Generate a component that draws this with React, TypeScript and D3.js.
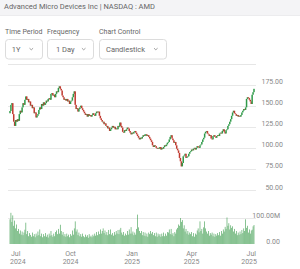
import React from "react";
import * as d3 from "d3";

const title = "Advanced Micro Devices Inc | NASDAQ : AMD";
const controlLabels = ["Time Period", "Frequency", "Chart Control"];
const controlValues = ["1Y", "1 Day", "Candlestick"];

const startDate = new Date(2024, 6, 2);
const firstOpen = 141;
// daily closes (USD), one per trading day
const closes = [
  143.7, 151, 153, 140, 131, 126, 133, 131, 134, 132,
  140, 144, 142, 148, 153, 151, 157, 161, 157, 158,
  154, 155, 150, 151, 147, 148, 141, 142, 136, 138,
  140, 145, 148, 146, 152, 150, 154, 151, 153, 156,
  155, 158, 159, 157, 164, 165, 162, 163, 160, 164,
  167, 166, 171, 173, 170, 168, 162, 160, 157, 158,
  156, 158, 155, 156, 152, 155, 156, 160, 164, 167,
  151, 146, 147, 143, 146, 148, 150, 147, 145, 143,
  141, 139, 140, 137, 140, 138, 139, 137, 139, 141,
  139, 138, 141, 143, 142, 143, 138, 135, 133, 131,
  131, 128, 129, 126, 126, 123, 124, 120, 122, 124,
  126, 124, 125, 122, 123, 122, 126, 125, 130, 126,
  124, 119, 118, 121, 120, 122, 124, 123, 120, 118,
  116, 118, 117, 119, 120, 118, 116, 114, 112, 110,
  112, 111, 113, 115, 114, 116, 116, 114, 115, 113,
  111, 109, 107, 103, 101, 103, 102, 100, 99, 100,
  99, 101, 98, 100, 99, 101, 103, 102, 104, 106,
  107, 110, 113, 115, 111, 109, 106, 107, 103, 99,
  97, 94, 88, 84, 78, 82, 90, 91, 93, 88,
  89, 90, 93, 95, 96, 98, 97, 99, 100, 98,
  100, 102, 101, 100, 103, 104, 107, 110, 112, 117,
  119, 120, 117, 116, 114, 115, 111, 110, 114, 115,
  113, 112, 114, 115, 114, 117, 118, 117, 120, 122,
  119, 117, 121, 122, 126, 128, 131, 134, 138, 142,
  144, 141, 140, 138, 139, 137, 138, 137, 139, 142,
  144, 146, 145, 148, 158, 160, 159, 157, 155, 152,
  163, 166, 170,
];
// daily volume, millions of shares
const volumesM = [
  95, 120, 85, 110, 70, 90, 60, 75, 50, 58,
  40, 52, 36, 48, 34, 44, 55, 82, 38, 50,
  30, 42, 35, 28, 44, 30, 38, 26, 40, 32,
  48, 34, 56, 30, 40, 26, 38, 30, 42, 28,
  36, 25, 40, 32, 50, 34, 28, 40, 30, 46,
  52, 38, 58, 40, 74, 50, 36, 46, 30, 38,
  28, 40, 30, 36, 26, 38, 32, 52, 36, 60,
  87, 48, 56, 34, 44, 30, 38, 28, 40, 30,
  26, 36, 28, 34, 24, 38, 28, 32, 26, 36,
  30, 40, 32, 46, 34, 48, 38, 56, 40, 50,
  60, 42, 52, 36, 46, 34, 54, 38, 56, 36,
  42, 32, 46, 36, 50, 40, 54, 38, 55, 62,
  44, 36, 46, 32, 40, 34, 50, 36, 56, 40,
  65, 40, 48, 34, 44, 36, 58, 113, 64, 50,
  42, 50, 34, 46, 32, 44, 30, 40, 28, 44,
  38, 50, 40, 46, 34, 42, 30, 44, 28, 40,
  32, 38, 28, 40, 30, 44, 30, 40, 32, 46,
  44, 56, 38, 58, 36, 42, 30, 46, 40, 56,
  62, 75, 70, 100, 85, 92, 60, 72, 48, 58,
  40, 50, 36, 44, 38, 46, 30, 42, 28, 40,
  36, 52, 60, 45, 87, 50, 58, 40, 64, 87,
  60, 48, 40, 50, 32, 42, 36, 44, 30, 40,
  28, 38, 32, 42, 34, 46, 32, 50, 40, 56,
  48, 66, 58, 102, 70, 80, 56, 72, 62, 68,
  48, 58, 40, 50, 34, 44, 36, 48, 38, 54,
  42, 60, 50, 95, 62, 70, 44, 56, 40, 52,
  55, 68, 73,
];
const priceTicks = [50, 75, 100, 125, 150, 175];
const volumeTicks = [0, 100];
const monthTicks = [new Date(2024, 9, 1), new Date(2025, 0, 1), new Date(2025, 3, 1)];
const edgeMonthLabels = [["Jul", "2024"], ["Jul", "2025"]];

const W = 300;
const H = 269;
const FONT = "Roboto, 'Open Sans', sans-serif";
const UP = "#2f9a49";
const DOWN = "#c0392f";

export default function App() {
  const n = closes.length;
  const dates: Date[] = [];
  let d = new Date(startDate);
  while (dates.length < n) {
    const w = d.getDay();
    if (w !== 0 && w !== 6) dates.push(new Date(d));
    d = d3.timeDay.offset(d, 1);
  }
  const x = d3.scaleLinear().domain([0, n - 1]).range([10, 254]);
  const y = d3.scaleLinear().domain([50, 175]).range([190, 84.6]);
  const yv = d3.scaleLinear().domain([0, 100]).range([244, 218]);
  const gx1 = 8;
  const gx2 = 256;
  const step = x(1) - x(0);

  const candles = closes.map((c, i) => {
    const o = i === 0 ? firstOpen : closes[i - 1];
    return { i, o, c };
  });

  const boxes = [
    { x: 5, w: 37, tx: 11.7, cx: 31.3 },
    { x: 47, w: 46, tx: 56, cx: 83.7 },
    { x: 99, w: 67, tx: 106, cx: 155.8 },
  ];
  const labelX = [5, 47, 99];
  const fmtM = d3.timeFormat("%b");
  const fmtY = d3.timeFormat("%Y");
  const bis = d3.bisector((t: Date) => t).left;

  return (
    <svg width={W} height={H} style={{ position: "absolute", left: 0, top: 0 }} fontFamily={FONT}>
      <rect x={0} y={0} width={W} height={H} fill="#fff" />
      <rect x={0} y={0} width={W} height={15} fill="#f4f4f6" />
      <line x1={0} x2={W} y1={15.5} y2={15.5} stroke="#ececee" />
      <text x={4} y={8.5} fontSize={7.5} fill="#666">{title}</text>

      {controlLabels.map((t, k) => (
        <text key={t} x={labelX[k]} y={34} fontSize={7} fill="#666">{t}</text>
      ))}
      {controlValues.map((t, k) => {
        const b = boxes[k];
        return (
          <g key={t}>
            <rect x={b.x + 0.5} y={39.5} width={b.w} height={19.5} rx={3} fill="#fff" stroke="#dcdcdc" />
            <text x={b.tx} y={51.5} fontSize={7.5} fill="#666">{t}</text>
            <polyline
              points={`${b.cx - 1.8},${48.2} ${b.cx},${49.8} ${b.cx + 1.8},${48.2}`}
              fill="none"
              stroke="#888"
              strokeWidth={0.8}
            />
          </g>
        );
      })}
      <line x1={8} x2={256} y1={64.5} y2={64.5} stroke="#e6e6e6" />

      {priceTicks.map((t) => (
        <g key={t}>
          <line x1={gx1} x2={gx2} y1={Math.round(y(t)) + 0.5} y2={Math.round(y(t)) + 0.5} stroke="#e8e8e8" />
          <text x={283} y={y(t) - 0.5} fontSize={7} fill="#888" textAnchor="end">{t.toFixed(2)}</text>
        </g>
      ))}
      {volumeTicks.map((t) => (
        <g key={t}>
          {t > 0 && (
            <line x1={gx1} x2={gx2} y1={Math.round(yv(t)) + 0.5} y2={Math.round(yv(t)) + 0.5} stroke="#e8e8e8" />
          )}
          <text x={280} y={yv(t) - 0.5} fontSize={7} fill="#888" textAnchor="end">
            {t === 0 ? "0.00" : `${t.toFixed(2)}M`}
          </text>
        </g>
      ))}

      {volumesM.map((v, i) => (
        <rect
          key={i}
          x={x(i) - step * 0.35}
          y={yv(v)}
          width={step * 0.7}
          height={yv(0) - yv(v)}
          fill="#4aa35a"
        />
      ))}

      {candles.map(({ i, o, c }) => {
        const top = y(Math.max(o, c));
        const h = Math.max(0.8, Math.abs(y(o) - y(c)));
        return (
          <rect
            key={i}
            x={x(i) - 0.75}
            y={top}
            width={1.5}
            height={h}
            fill={c >= o ? UP : DOWN}
          />
        );
      })}

      {monthTicks.map((t) => {
        const xi = x(bis(dates, t));
        return (
          <g key={t.toISOString()}>
            <text x={xi} y={255.5} fontSize={7} fill="#888" textAnchor="middle">{fmtM(t)}</text>
            <text x={xi} y={263.5} fontSize={7} fill="#888" textAnchor="middle">{fmtY(t)}</text>
          </g>
        );
      })}
      <text x={11} y={255.5} fontSize={7} fill="#888" textAnchor="start">{edgeMonthLabels[0][0]}</text>
      <text x={10} y={263.5} fontSize={7} fill="#888" textAnchor="start">{edgeMonthLabels[0][1]}</text>
      <text x={256} y={255.5} fontSize={7} fill="#888" textAnchor="end">{edgeMonthLabels[1][0]}</text>
      <text x={257} y={263.5} fontSize={7} fill="#888" textAnchor="end">{edgeMonthLabels[1][1]}</text>
    </svg>
  );
}
